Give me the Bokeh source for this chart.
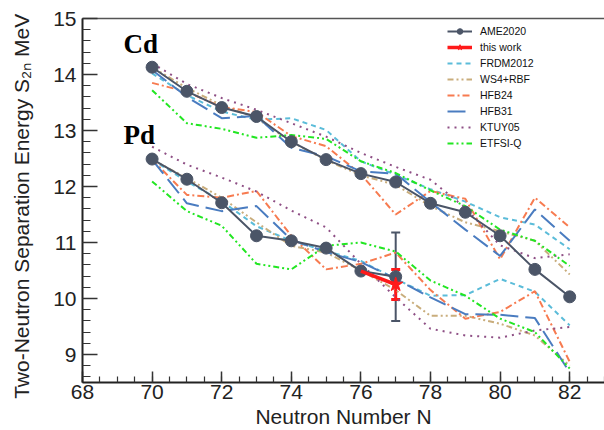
from bokeh.plotting import figure
from bokeh.models import (Range1d, SingleIntervalTicker, LinearAxis, FixedTicker, Label,
                          Legend, LegendItem, ColumnDataSource, Whisker, TeeHead)
from bokeh.embed import file_html
from bokeh.resources import INLINE

# ---------------- data ----------------
N = [70, 71, 72, 73, 74, 75, 76, 77, 78, 79, 80, 81, 82]

ame_cd = [14.13, 13.70, 13.41, 13.25, 12.80, 12.48, 12.23, 12.08, 11.70, 11.54, 11.12, 10.52, 10.03]
ame_pd_n = [70, 71, 72, 73, 74, 75, 76, 77]
ame_pd = [12.49, 12.13, 11.71, 11.12, 11.03, 10.90, 10.49, 10.39]
ame_pd_err = [0.0, 0.0, 0.0, 0.0, 0.0, 0.0, 0.0, 0.79]

this_n = [76, 77]
this_s = [10.49, 10.25]
this_err = [0.0, 0.27]

frdm_cd = [14.02, 13.63, 13.34, 13.19, 13.22, 13.01, 12.45, 12.21, 11.95, 11.73, 11.45, 11.32, 10.88]
frdm_pd = [12.48, 12.09, 11.74, 11.29, 11.03, 10.85, 10.67, 10.35, 10.05, 10.06, 10.35, 10.12, 9.52]
ws4_cd = [14.13, 13.76, 13.45, 13.22, 12.80, 12.47, 12.20, 12.03, 11.65, 11.36, 11.20, 11.03, 10.43]
ws4_pd = [12.48, 12.15, 11.80, 11.36, 10.94, 10.82, 10.50, 10.15, 9.69, 9.69, 9.55, 9.34, 8.80]
hfb24_cd = [13.85, 13.69, 13.42, 13.33, 12.90, 12.72, 12.22, 11.50, 11.92, 11.78, 10.70, 11.80, 11.27]
hfb24_pd = [12.48, 11.85, 11.80, 11.92, 11.12, 10.52, 10.62, 10.82, 10.15, 9.64, 9.76, 10.13, 8.87]
hfb31_cd = [14.08, 13.60, 13.22, 13.26, 12.69, 12.54, 12.27, 12.23, 11.72, 11.23, 10.76, 11.59, 11.03]
hfb31_pd = [12.48, 11.70, 11.56, 11.65, 11.05, 10.83, 10.65, 10.35, 10.02, 9.72, 9.71, 9.65, 8.68]
ktuy_cd = [14.20, 13.83, 13.58, 13.37, 13.13, 12.89, 12.60, 12.35, 12.12, 11.62, 10.95, 10.72, 10.79]
ktuy_pd = [12.71, 12.39, 12.16, 11.91, 11.57, 11.27, 10.62, 10.02, 9.46, 9.34, 9.30, 9.43, 9.49]
etfsi_cd = [13.72, 13.13, 13.03, 12.87, 12.92, 12.85, 12.45, 12.24, 11.93, 11.65, 11.23, 11.03, 10.58]
etfsi_pd = [12.09, 11.56, 11.30, 10.62, 10.52, 10.94, 11.00, 10.84, 10.32, 10.05, 9.64, 9.40, 8.75]

x_ticks_major = 2
y_ticks_major = 1

# ---------------- figure ----------------
FONT = "Liberation Sans"
p = figure(width=604, height=430, output_backend="svg", toolbar_location=None,
           x_range=Range1d(68, 83), y_range=Range1d(8.5, 15),
           min_border_left=82, min_border_right=0, min_border_top=18, min_border_bottom=46)
p.background_fill_color = "white"
p.border_fill_color = "white"
p.outline_line_color = None
p.xgrid.visible = False
p.ygrid.visible = False

for ax, tl_in, mn_in in ((p.xaxis[0], 11, 6), (p.yaxis[0], 15, 8)):
    ax.major_tick_in = tl_in
    ax.major_tick_out = 0
    ax.minor_tick_in = mn_in
    ax.minor_tick_out = 0
    ax.axis_line_width = 2
    ax.axis_line_color = "#222222"
    ax.major_tick_line_color = "#333333"
    ax.minor_tick_line_color = "#333333"
    ax.major_tick_line_width = 1.5
    ax.minor_tick_line_width = 1.2
    ax.major_label_text_font = FONT
    ax.major_label_text_font_size = "21px"
    ax.major_label_text_color = "#222222"
    ax.axis_label_text_font = FONT
    ax.axis_label_text_font_style = "normal"
    ax.axis_label_text_color = "#222222"

p.xaxis[0].ticker = SingleIntervalTicker(interval=x_ticks_major, num_minor_ticks=4)
p.yaxis[0].ticker = SingleIntervalTicker(interval=y_ticks_major, num_minor_ticks=5)
p.xaxis[0].major_label_standoff = 2
p.yaxis[0].major_label_standoff = 6

p.xaxis[0].axis_label = "Neutron Number N"
p.xaxis[0].axis_label_text_font_size = "21px"
p.xaxis[0].axis_label_standoff = 3

p.yaxis[0].axis_label = "Two-Neutron Separation Energy S\u2082\u2099   MeV"
p.yaxis[0].axis_label_text_font_size = "21px"
p.yaxis[0].axis_label_standoff = 17

top = LinearAxis(ticker=FixedTicker(ticks=[]), major_label_text_font_size="0px",
                 axis_line_color="#555555", axis_line_width=1.5, major_label_standoff=0)
p.add_layout(top, "above")

# ---------------- theory curves ----------------
models = [
    ("FRDM2012", frdm_cd, frdm_pd, "#5bbcd9", "5 4"),
    ("WS4+RBF", ws4_cd, ws4_pd, "#c9ad7c", "6 3 2 3 2 3"),
    ("HFB24", hfb24_cd, hfb24_pd, "#f77b50", "7 3 2 3"),
    ("HFB31", hfb31_cd, hfb31_pd, "#4a7cc0", "18 7"),
    ("KTUY05", ktuy_cd, ktuy_pd, "#8e4f85", "2 5"),
    ("ETFSI-Q", etfsi_cd, etfsi_pd, "#22e622", "6 3 2 3 2 3"),
]
items_models = []
for name, cd, pd_, col, dash in models:
    r1 = p.line(N, cd, line_color=col, line_width=2, line_dash=dash)
    p.line(N, pd_, line_color=col, line_width=2, line_dash=dash)
    items_models.append(LegendItem(label=name, renderers=[r1]))

# ---------------- AME2020 ----------------
AME_COL = "#4b5567"
ra = p.line(N, ame_cd, line_color=AME_COL, line_width=2)
rs = p.scatter(N, ame_cd, size=12, fill_color=AME_COL, line_color=AME_COL)
p.line(ame_pd_n, ame_pd, line_color=AME_COL, line_width=2)
p.scatter(ame_pd_n, ame_pd, size=12, fill_color=AME_COL, line_color=AME_COL)

ame_err_view = ColumnDataSource(dict(x=[x for x, e in zip(ame_pd_n, ame_pd_err) if e > 0],
                                     lo=[s - e for s, e in zip(ame_pd, ame_pd_err) if e > 0],
                                     hi=[s + e for s, e in zip(ame_pd, ame_pd_err) if e > 0]))
p.add_layout(Whisker(base="x", lower="lo", upper="hi", source=ame_err_view,
                     line_color=AME_COL, line_width=2,
                     upper_head=TeeHead(size=9, line_color=AME_COL, line_width=2),
                     lower_head=TeeHead(size=9, line_color=AME_COL, line_width=2)))

# ---------------- this work ----------------
RED = "#ff1a1a"
rt = p.line(this_n, this_s, line_color=RED, line_width=3.5)
rst = p.scatter(this_n[1:], this_s[1:], marker="star", size=15, fill_color=RED, line_color=RED)
this_err_view = ColumnDataSource(dict(x=[x for x, e in zip(this_n, this_err) if e > 0],
                                      lo=[s - e for s, e in zip(this_s, this_err) if e > 0],
                                      hi=[s + e for s, e in zip(this_s, this_err) if e > 0]))
p.add_layout(Whisker(base="x", lower="lo", upper="hi", source=this_err_view,
                     line_color=RED, line_width=3,
                     upper_head=TeeHead(size=9, line_color=RED, line_width=3),
                     lower_head=TeeHead(size=9, line_color=RED, line_width=3)))

# ---------------- legend ----------------
legend = Legend(items=[LegendItem(label="AME2020", renderers=[ra, rs]),
                       LegendItem(label="this work", renderers=[rt, rst])] + items_models,
                location=(365, 232), padding=0, margin=0, spacing=2,
                glyph_width=25, glyph_height=14, label_height=14, label_standoff=8,
                label_text_font=FONT, label_text_font_size="10.5px", label_text_color="#111111",
                border_line_alpha=0, background_fill_alpha=0)
p.add_layout(legend)

# ---------------- element labels ----------------
for txt, ys in (("Cd", 14.55), ("Pd", 12.92)):
    p.add_layout(Label(x=69.18, y=ys, text=txt, text_font="Liberation Serif",
                       text_font_style="bold", text_font_size="27px", text_color="black",
                       text_baseline="alphabetic", text_align="left"))

open("out.html", "w").write(file_html(p, INLINE))
